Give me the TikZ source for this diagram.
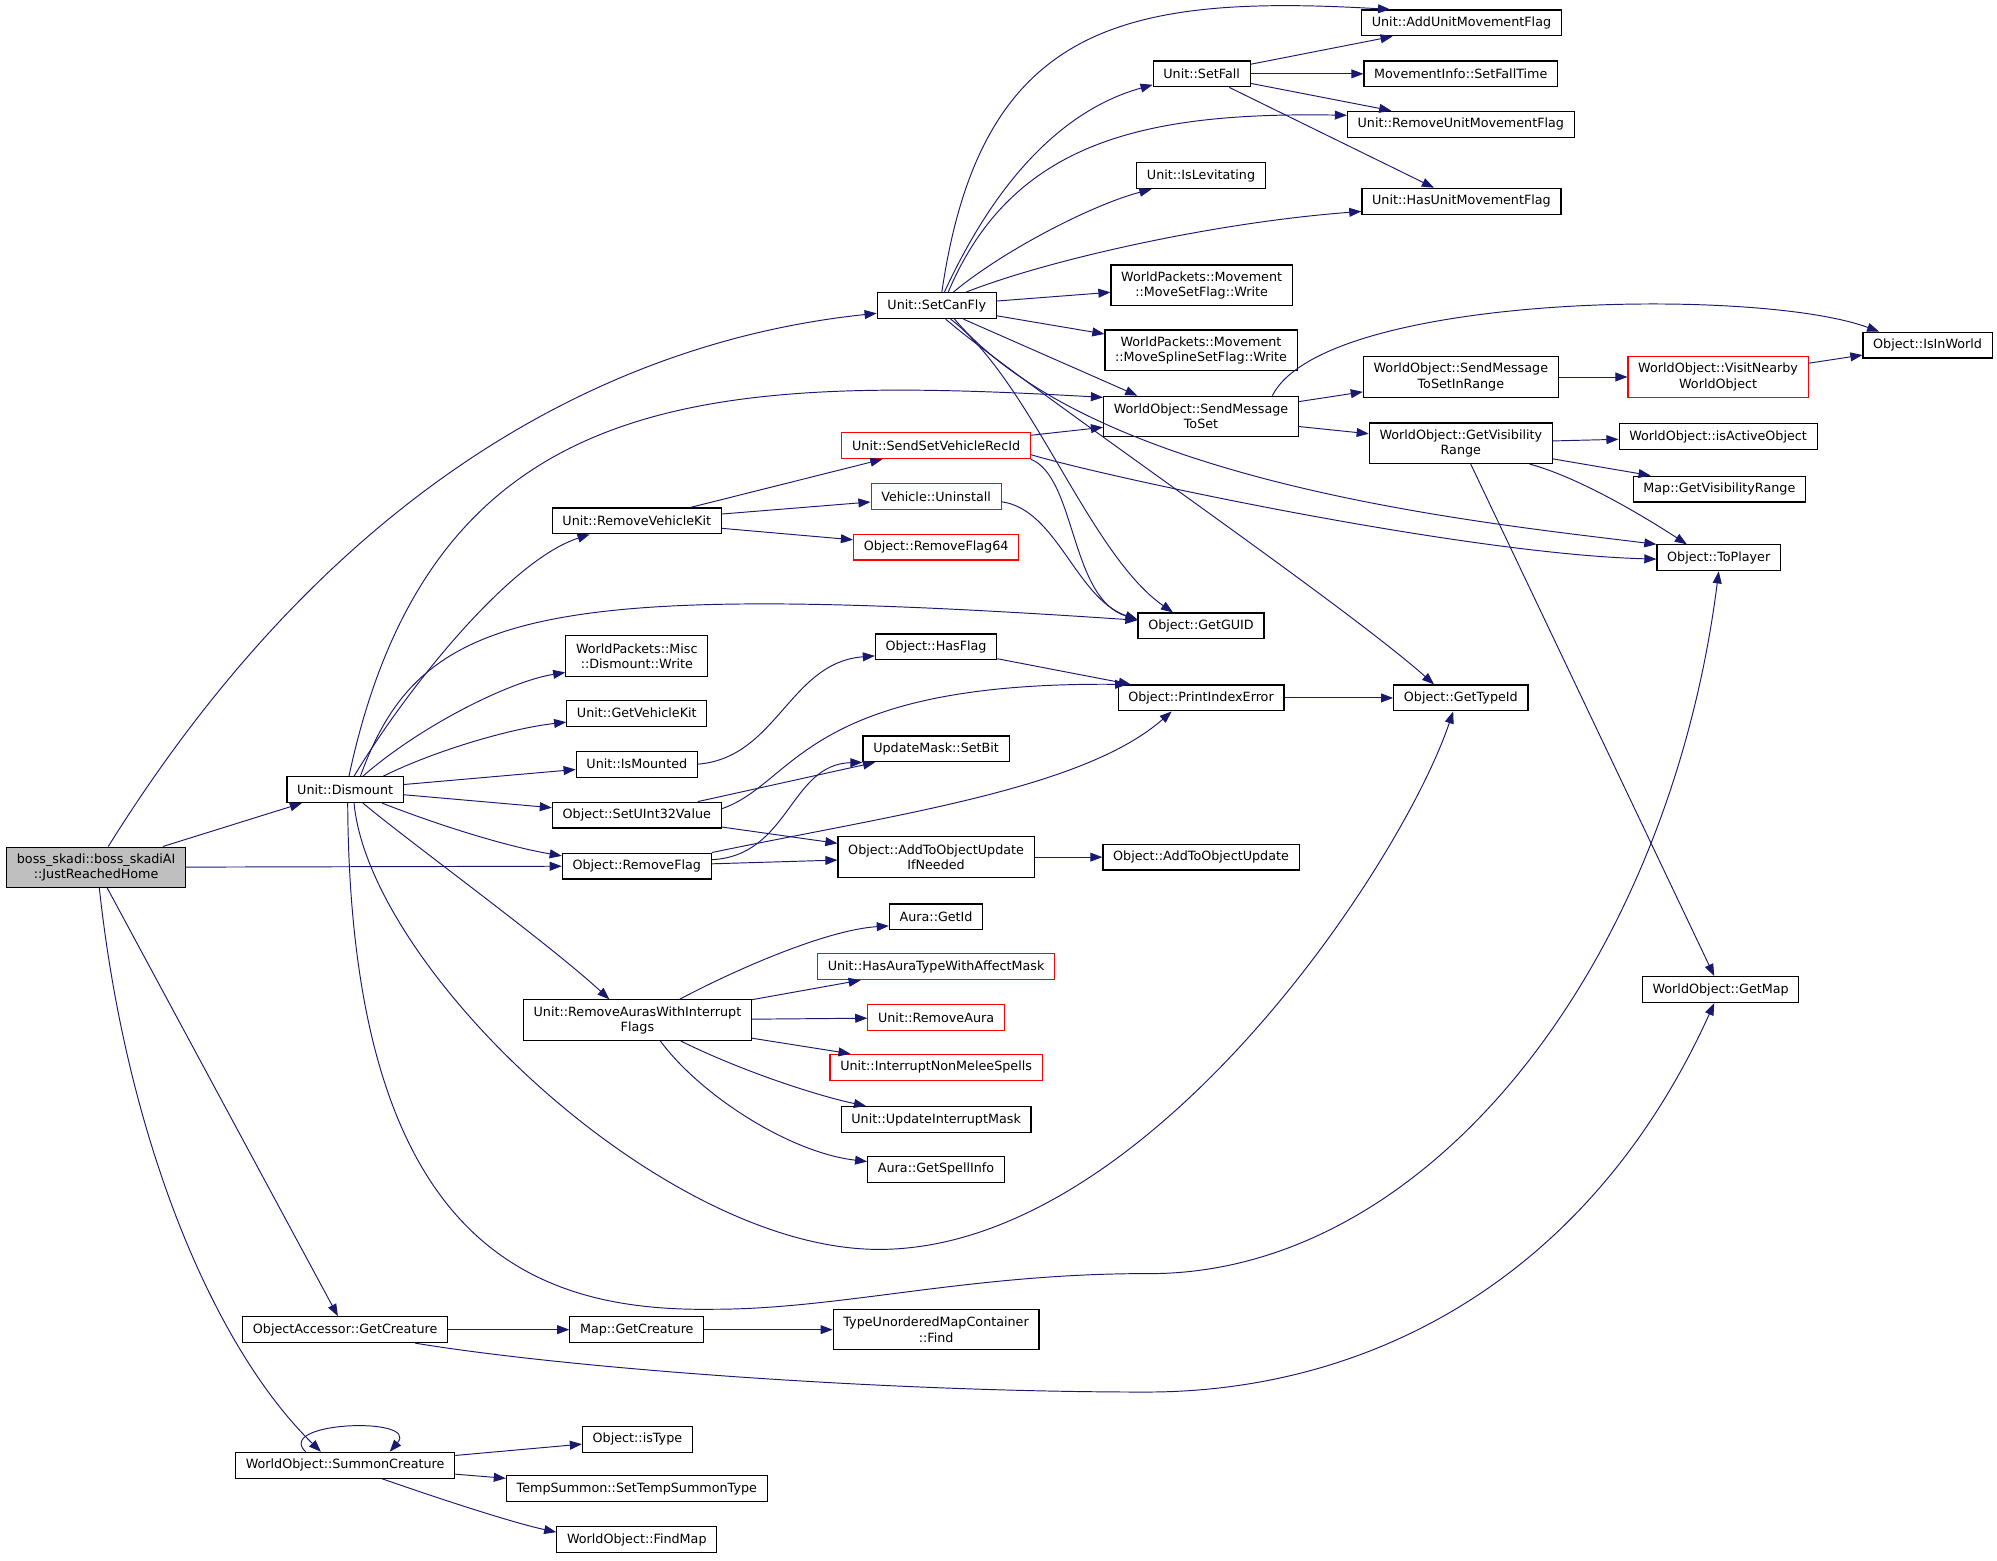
\documentclass[tikz,border=0pt]{standalone}
\usepackage{fontspec}
\setmainfont{DejaVu Sans}
\usepackage{tikz}
\usetikzlibrary{arrows.meta}

\definecolor{callColor}{RGB}{25,25,112}
\definecolor{rootFill}{RGB}{191,191,191}

\begin{document}
\begin{tikzpicture}[x=1pt,y=-1pt,
  fn/.style={draw=black,line width=0.9pt,fill=white,font=\fontsize{10}{12}\selectfont,
    inner xsep=8pt,inner ysep=0pt,minimum height=20.3pt,align=center},
  two/.style={minimum height=31.8pt},
  trunc/.style={draw=red},
  root/.style={fill=rootFill},
  call/.style={draw=callColor,line width=0.75pt,-{Triangle[length=9.5pt,width=7pt]}}]
\useasboundingbox (0,0) rectangle (1568,1225);

\node[fn,two,root] (boss) at (75.5,681) {boss\_skadi::boss\_skadiAI\\::JustReachedHome};
\node[fn] (setCanFly) at (735.5,240) {Unit::SetCanFly};
\node[fn] (dismount) at (271,620) {Unit::Dismount};
\node[fn] (oaCreature) at (271,1044) {ObjectAccessor::GetCreature};
\node[fn] (summon) at (271,1150.5) {WorldObject::SummonCreature};
\node[fn] (setFall) at (943.5,58) {Unit::SetFall};
\node[fn] (addUmFlag) at (1147.5,18) {Unit::AddUnitMovementFlag};
\node[fn] (fallTime) at (1147,58) {MovementInfo::SetFallTime};
\node[fn] (removeUmFlag) at (1147,97.5) {Unit::RemoveUnitMovementFlag};
\node[fn] (isLevitating) at (943,138) {Unit::IsLevitating};
\node[fn] (hasUmFlag) at (1147.5,158) {Unit::HasUnitMovementFlag};
\node[fn,two] (moveSetFlag) at (943.5,224) {WorldPackets::Movement\\::MoveSetFlag::Write};
\node[fn,two] (moveSplineFlag) at (943,275) {WorldPackets::Movement\\::MoveSplineSetFlag::Write};
\node[fn,two] (sendMsg) at (943,327) {WorldObject::SendMessage\\ToSet};
\node[fn,two] (sendRange) at (1147,296) {WorldObject::SendMessage\\ToSetInRange};
\node[fn,two,trunc] (visitNearby) at (1349,296) {WorldObject::VisitNearby\\WorldObject};
\node[fn] (isInWorld) at (1513.5,271) {Object::IsInWorld};
\node[fn,two] (visRange) at (1147,348) {WorldObject::GetVisibility\\Range};
\node[fn] (isActive) at (1349,343) {WorldObject::isActiveObject};
\node[fn] (mapVisRange) at (1350,384) {Map::GetVisibilityRange};
\node[fn] (toPlayer) at (1349.5,438) {Object::ToPlayer};
\node[fn,trunc] (sendVehicle) at (735,350) {Unit::SendSetVehicleRecId};
\node[fn,trunc] (uninstall) at (735,390) {Vehicle::Uninstall};
\node[fn,trunc] (removeFlag64) at (735,429.5) {Object::RemoveFlag64};
\node[fn] (removeVehicleKit) at (500,409) {Unit::RemoveVehicleKit};
\node[fn] (getGuid) at (943,491.5) {Object::GetGUID};
\node[fn,two] (miscDismount) at (500,515) {WorldPackets::Misc\\::Dismount::Write};
\node[fn] (getVehicleKit) at (500,560) {Unit::GetVehicleKit};
\node[fn] (isMounted) at (500,600) {Unit::IsMounted};
\node[fn] (hasFlag) at (735,508) {Object::HasFlag};
\node[fn] (printIndex) at (943,548) {Object::PrintIndexError};
\node[fn] (getTypeId) at (1147,548) {Object::GetTypeId};
\node[fn] (setBit) at (735,588) {UpdateMask::SetBit};
\node[fn] (setUInt) at (500,640) {Object::SetUInt32Value};
\node[fn] (removeFlag) at (500,680) {Object::RemoveFlag};
\node[fn,two] (addUpdateIf) at (735,673) {Object::AddToObjectUpdate\\IfNeeded};
\node[fn] (addUpdate) at (943,673) {Object::AddToObjectUpdate};
\node[fn] (getId) at (735,720) {Aura::GetId};
\node[fn,trunc] (hasAuraType) at (735,759) {Unit::HasAuraTypeWithAffectMask};
\node[fn,trunc] (removeAura) at (735,799) {Unit::RemoveAura};
\node[fn,trunc] (interrupt) at (735,838) {Unit::InterruptNonMeleeSpells};
\node[fn] (updateMask) at (735,879) {Unit::UpdateInterruptMask};
\node[fn] (getSpellInfo) at (735,918) {Aura::GetSpellInfo};
\node[fn,two] (removeAuras) at (500.5,801) {Unit::RemoveAurasWithInterrupt\\Flags};
\node[fn] (getMap) at (1351,777) {WorldObject::GetMap};
\node[fn] (mapCreature) at (500,1044) {Map::GetCreature};
\node[fn,two] (findCont) at (735,1044) {TypeUnorderedMapContainer\\::Find};
\node[fn] (isType) at (500.5,1130) {Object::isType};
\node[fn] (tempSummon) at (500,1169) {TempSummon::SetTempSummonType};
\node[fn] (findMap) at (500,1209) {WorldObject::FindMap};

\draw[call] ([xshift=9.5pt]boss.north) .. controls (250,400) and (460,270) .. ([yshift=-6pt]setCanFly.west);
\draw[call] (boss) -- (dismount);
\draw[call] (boss) -- (removeFlag);
\draw[call] (boss) -- (oaCreature);
\draw[call] ([xshift=2.5pt]boss.south) .. controls (100,900) and (170,1060) .. ([xshift=-19pt]summon.north);

\draw[call] ([xshift=4pt]setCanFly.north) .. controls (770,20) and (880,-5) .. ([xshift=-56pt]addUmFlag.north);
\draw[call] ([xshift=6pt]setCanFly.north) .. controls (785,135) and (839,85) .. ([yshift=2pt]setFall.south west);
\draw[call] ([xshift=9pt]setCanFly.north) .. controls (795,110) and (900,88) .. ([yshift=7pt]removeUmFlag.west);
\draw[call] ([xshift=13pt]setCanFly.north) .. controls (790,195) and (860,160) .. ([xshift=12pt]isLevitating.south west);
\draw[call] ([xshift=23pt]setCanFly.north) .. controls (820,205) and (950,175) .. ([yshift=-8pt]hasUmFlag.west);
\draw[call] (setCanFly) -- (moveSetFlag);
\draw[call] (setCanFly) -- (moveSplineFlag);
\draw[call] ([xshift=21pt]setCanFly.south) -- ([xshift=-50pt]sendMsg.north);
\draw[call] ([xshift=11pt]setCanFly.south) .. controls (810,300) and (855,435) .. ([xshift=-22pt]getGuid.north);
\draw[call] ([xshift=7pt]setCanFly.south) .. controls (800,300) and (1050,470) .. ([xshift=-21pt]getTypeId.north);
\draw[call] ([xshift=14pt]setCanFly.south) .. controls (860,380) and (1160,410) .. (toPlayer.north west);

\draw[call] (setFall) -- (addUmFlag);
\draw[call] (setFall) -- (fallTime);
\draw[call] (setFall) -- (removeUmFlag);
\draw[call] (setFall) -- (hasUmFlag);

\draw[call] ([xshift=3pt]dismount.north) .. controls (340,300) and (560,295) .. ([yshift=15pt]sendMsg.west);
\draw[call] ([xshift=7pt]dismount.north) .. controls (320,540) and (400,440) .. ([xshift=-37pt]removeVehicleKit.south);
\draw[call] ([xshift=12pt]dismount.north) .. controls (330,480) and (420,455) .. ([yshift=4.5pt]getGuid.west);
\draw[call] ([xshift=14pt]dismount.north) .. controls (330,570) and (400,535) .. ([yshift=-13pt]miscDismount.west);
\draw[call] ([xshift=30pt]dismount.north) .. controls (340,590) and (400,572) .. ([yshift=-7pt]getVehicleKit.west);
\draw[call] (dismount) -- (isMounted);
\draw[call] (dismount) -- (setUInt);
\draw[call] ([xshift=29pt]dismount.south) .. controls (350,650) and (400,665) .. ([yshift=8pt]removeFlag.west);
\draw[call] ([xshift=14pt]dismount.south) .. controls (320,660) and (430,740) .. ([xshift=-22pt]removeAuras.north);
\draw[call] ([xshift=7pt]dismount.south) .. controls (290,760) and (520,981) .. (690,981)
  .. controls (900,981) and (1100,680) .. ([xshift=-6pt]getTypeId.south);
\draw[call] ([xshift=2pt]dismount.south) .. controls (275,980) and (420,1030) .. (560,1028)
  .. controls (660,1028) and (760,1000) .. (900,1000)
  .. controls (1120,1002) and (1310,760) .. (toPlayer.south);

\draw[call] (removeVehicleKit) -- (sendVehicle);
\draw[call] (removeVehicleKit) -- (uninstall);
\draw[call] (removeVehicleKit) -- (removeFlag64);
\draw[call] (sendVehicle) -- (sendMsg);
\draw[call] ([yshift=-7pt]sendVehicle.east) .. controls (870,375) and (1150,435) .. ([yshift=-1pt]toPlayer.west);
\draw[call] (sendVehicle.south east) .. controls (845,375) and (840,470) .. ([yshift=5pt]getGuid.west);
\draw[call] ([yshift=-4pt]uninstall.east) .. controls (830,400) and (845,470) .. ([yshift=5pt]getGuid.west);

\draw[call] (sendMsg) -- (sendRange);
\draw[call] (sendMsg) -- (visRange);
\draw[call] ([xshift=56pt]sendMsg.north) .. controls (1040,230) and (1380,225) .. ([xshift=-38pt]isInWorld.north);
\draw[call] (sendRange) -- (visitNearby);
\draw[call] (visitNearby) -- (isInWorld);
\draw[call] (visRange) -- (isActive);
\draw[call] (visRange) -- ([xshift=-54pt]mapVisRange.north);
\draw[call] ([xshift=54pt]visRange.south) .. controls (1240,375) and (1290,405) .. ([xshift=-25pt]toPlayer.north);
\draw[call] (visRange) -- (getMap);

\draw[call] (isMounted.east) .. controls (610,595) and (620,520) .. ([yshift=-7pt]hasFlag.west);
\draw[call] (hasFlag) -- (printIndex);
\draw[call] ([yshift=5pt]setUInt.east) .. controls (625,615) and (630,535) .. ([xshift=-58pt]printIndex.north);
\draw[call] (setUInt) -- (setBit);
\draw[call] (setUInt) -- (addUpdateIf);
\draw[call] ([yshift=5pt]removeFlag.east) .. controls (620,672) and (620,600) .. (setBit.south west);
\draw[call] (removeFlag.north east) .. controls (700,640) and (850,620) .. ([xshift=-23pt]printIndex.south);
\draw[call] (removeFlag) -- (addUpdateIf);
\draw[call] (addUpdateIf) -- (addUpdate);
\draw[call] (printIndex) -- (getTypeId);

\draw[call] ([xshift=33pt]removeAuras.north) .. controls (580,760) and (650,730) .. ([yshift=-7pt]getId.west);
\draw[call] (removeAuras) -- (hasAuraType);
\draw[call] (removeAuras) -- (removeAura);
\draw[call] (removeAuras) -- (interrupt);
\draw[call] ([xshift=34pt]removeAuras.south) .. controls (580,840) and (640,860) .. ([xshift=-55pt]updateMask.north);
\draw[call] ([xshift=18pt]removeAuras.south) .. controls (550,860) and (620,905) .. ([yshift=6pt]getSpellInfo.west);

\draw[call] (oaCreature) -- (mapCreature);
\draw[call] (mapCreature) -- (findCont);
\draw[call] ([xshift=55pt]oaCreature.south) .. controls (450,1075) and (700,1093) .. (900,1093)
  .. controls (1080,1093) and (1250,1000) .. ([xshift=-5pt]getMap.south);

\draw[call] ([xshift=-31pt]summon.north) .. controls (215,1116) and (330,1112) .. ([xshift=35pt]summon.north);
\draw[call] (summon) -- (isType);
\draw[call] (summon) -- (tempSummon);
\draw[call] ([xshift=29pt]summon.south) .. controls (340,1175) and (400,1195) .. ([yshift=6pt]findMap.west);
\end{tikzpicture}
\end{document}
